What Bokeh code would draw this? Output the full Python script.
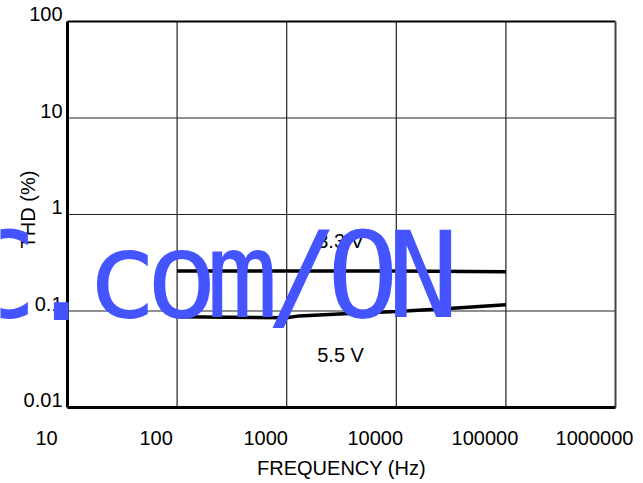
import math
from bokeh.plotting import figure
from bokeh.core.properties import value
from bokeh.embed import file_html
from bokeh.resources import INLINE

# ---- data ----
x_ticks = [10, 100, 1000, 10000, 100000, 1000000]
x_tick_labels = ["10", "100", "1000", "10000", "100000", "1000000"]
y_ticks = [0.01, 0.1, 1, 10, 100]
y_tick_labels = ["0.01", "0.1", "1", "10", "100"]

freq_33 = [100, 1000, 10000, 100000]
thd_33 = [0.26, 0.26, 0.26, 0.255]

freq_55 = [100, 300, 1000, 1300, 3000, 10000, 30000, 100000]
thd_55 = [0.087, 0.086, 0.085, 0.089, 0.093, 0.099, 0.106, 0.116]

series_names = ["3.3 V", "5.5 V"]
series_label_x = [3100, 3100]
series_label_y = [0.53, 0.035]

watermark = "C.com/ON"

# ---- layout (pixels) ----
W, H = 643, 483
LEFT, RIGHT, TOP, BOTTOM = 67, 28, 21, 76
FW, FH = W - LEFT - RIGHT, H - TOP - BOTTOM
X0, X1 = x_ticks[0], x_ticks[-1]
Y0, Y1 = y_ticks[0], y_ticks[-1]
dec_x = FW / (math.log10(X1) - math.log10(X0))
dec_y = FH / (math.log10(Y1) - math.log10(Y0))
# the plotting frame covers the whole canvas so that no text is clipped;
# the visible chart box is drawn from the tick values
x_range = (10 ** (math.log10(X0) - LEFT / dec_x), 10 ** (math.log10(X1) + RIGHT / dec_x))
y_range = (10 ** (math.log10(Y0) - BOTTOM / dec_y), 10 ** (math.log10(Y1) + TOP / dec_y))

FONT = value("Liberation Sans")

p = figure(width=W, height=H, x_axis_type="log", y_axis_type="log",
           x_range=x_range, y_range=y_range,
           output_backend="svg", toolbar_location=None,
           min_border=0, min_border_left=0, min_border_right=0,
           min_border_top=0, min_border_bottom=0)
p.outline_line_color = None
p.background_fill_color = "white"
p.border_fill_color = "white"
for ax in p.axis:
    ax.visible = False
p.grid.visible = False

# grid lines
inner_x = x_ticks[1:-1]
inner_y = y_ticks[1:-1]
p.segment(x0=inner_x, y0=[Y0] * len(inner_x), x1=inner_x, y1=[Y1] * len(inner_x),
          line_color="#222222", line_width=1.2)
p.segment(x0=[X0] * len(inner_y), y0=inner_y, x1=[X1] * len(inner_y), y1=inner_y,
          line_color="#222222", line_width=1.2)
# box: top and right lighter, left and bottom heavier
p.segment(x0=[X0], y0=[Y1], x1=[X1], y1=[Y1], line_color="black", line_width=2)
p.segment(x0=[X1], y0=[Y0], x1=[X1], y1=[Y1], line_color="#444444", line_width=2)
p.segment(x0=[X0], y0=[Y0], x1=[X0], y1=[Y1], line_color="black", line_width=3)
p.segment(x0=[X0], y0=[Y0], x1=[X1], y1=[Y0], line_color="black", line_width=3)

# curves
p.line(freq_33, thd_33, line_color="black", line_width=3.5)
p.line(freq_55, thd_55, line_color="black", line_width=3.5)

# tick labels
p.text(x=x_ticks, y=[Y0] * len(x_ticks), text=x_tick_labels, x_offset=-21, y_offset=30,
       text_align="center", text_baseline="middle",
       text_font=FONT, text_font_size="20px", text_color="black")
p.text(x=[X0] * len(y_ticks), y=y_ticks, text=y_tick_labels, x_offset=-5, y_offset=-7.5,
       text_align="right", text_baseline="middle",
       text_font=FONT, text_font_size="20px", text_color="black")

# axis titles
p.text(x=[math.sqrt(X0 * X1)], y=[Y0], text=["FREQUENCY (Hz)"], y_offset=60,
       text_align="center", text_baseline="middle",
       text_font=FONT, text_font_size="20px", text_color="black")
p.text(x=[X0], y=[1], text=["THD (%)"], x_offset=-40, y_offset=-5, angle=math.pi / 2,
       text_align="center", text_baseline="middle",
       text_font=FONT, text_font_size="20px", text_color="black")

# series labels
p.text(x=series_label_x, y=series_label_y, text=series_names,
       text_align="center", text_baseline="middle",
       text_font=FONT, text_font_size="20px", text_color="black")

# watermark overlay
wm_chars = list(watermark)
p.text(x=[X0] * len(wm_chars), y=[0.1] * len(wm_chars), text=wm_chars,
       x_offset=[-66.5 + i * 60.3 for i in range(len(wm_chars))], y_offset=-35.5,
       text_align="center", text_baseline="middle",
       text_font=value("DejaVu Sans Mono"), text_font_size="120px",
       text_color="#4455ff")

open("out.html", "w").write(file_html(p, INLINE))
